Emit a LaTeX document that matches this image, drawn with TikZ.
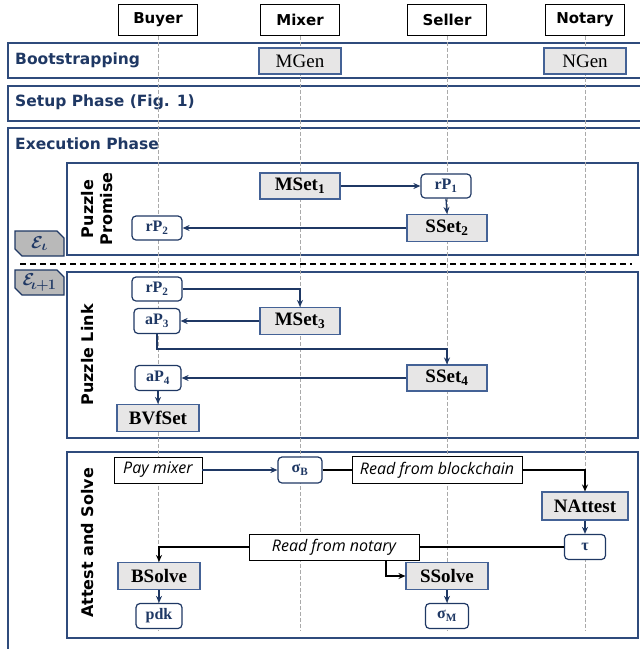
\documentclass[tikz,border=0pt]{standalone}
\usepackage{fontspec}
\setmainfont{Liberation Serif}
\newfontfamily\hdrfont{DejaVu Sans}
\newfontfamily\itfont{Open Sans}
\usetikzlibrary{arrows.meta}
\definecolor{navy}{RGB}{31,56,100}
\definecolor{phaseblue}{RGB}{47,75,124}
\definecolor{gboxblue}{RGB}{68,98,150}
\definecolor{gfill}{RGB}{231,230,230}
\definecolor{efill}{RGB}{185,185,185}
\definecolor{lifegray}{RGB}{170,170,170}
\begin{document}
\begin{tikzpicture}[x=1pt,y=-1pt,
  phase/.style={draw=phaseblue, line width=1.5pt},
  ptitle/.style={anchor=base west, inner sep=0pt, text=navy, font=\hdrfont\bfseries\fontsize{15.5}{18}\selectfont},
  hdr/.style={draw=black, line width=0.8pt, fill=white, minimum width=79pt, minimum height=31pt, inner sep=0pt, font=\hdrfont\bfseries\fontsize{15}{17}\selectfont},
  gbox/.style={draw=gboxblue, fill=gfill, line width=1.1pt, minimum height=26pt, inner sep=0pt, font=\bfseries\fontsize{19}{21}\selectfont},
  rbox/.style={draw=navy, fill=white, line width=1.2pt, rounded corners=4pt, minimum height=24pt, inner sep=0pt, text=navy, font=\bfseries\fontsize{16}{18}\selectfont},
  ibox/.style={draw=black, fill=white, line width=0.9pt, minimum height=26pt, inner sep=0pt, font=\itfont\itshape\fontsize{16}{18}\selectfont},
  vlab/.style={rotate=90, align=center, inner sep=0pt, font=\hdrfont\bfseries\fontsize{16}{19}\selectfont},
  life/.style={draw=lifegray, line width=0.7pt, dash pattern=on 4pt off 2pt},
  arr/.style={draw=navy, line width=1.3pt, -{Stealth[length=7pt,width=6pt]}},
  barr/.style={draw=black, line width=1.3pt, -{Stealth[length=7pt,width=6pt]}},
  bline/.style={draw=black, line width=1.3pt},
  ebox/.style={draw=navy, fill=efill, line width=1.1pt},
  elab/.style={text=navy, inner sep=0pt, font=\boldmath\fontsize{19}{19}\selectfont}]
\useasboundingbox (0,0) rectangle (640,649);
\fill[white] (0,0) rectangle (640,649);

% phase frames
\draw[phase] (8,43) rectangle (650,78);
\draw[phase] (8,86) rectangle (650,121);
\draw[phase] (8,128) rectangle (650,665);
\draw[phase] (67,163) rectangle (638,255);
\draw[phase] (67,272) rectangle (638,438);
\draw[phase] (67,452) rectangle (638,638);

\node[ptitle] (tboot) at (15,64) {Bootstrapping};
\node[ptitle] (tsetup) at (15,106) {Setup Phase (Fig. 1)};
\node[ptitle] (texec) at (15,149) {Execution Phase};

% headers and lifelines
\node[hdr] (buyer) at (158,20) {Buyer};
\node[hdr] (mixer) at (300,20) {Mixer};
\node[hdr] (seller) at (447,20) {Seller};
\node[hdr] (notary) at (585,20) {Notary};
\coordinate (lifeend) at (0,631);
\foreach \p in {buyer,mixer,seller,notary}
  \draw[life] (\p.south) -- (\p.south |- lifeend);

% separator and epoch tags
\draw[black, line width=1.6pt, dash pattern=on 6pt off 4pt] (20,264) -- (632,264);
\draw[ebox] (15,231) -- (57,231) -- (64,238) -- (64,256) -- (22,256) -- (15,249) -- cycle;
\node[elab] (ei) at (39.5,243.5) {$\mathcal{E}_{\iota}$};
\draw[ebox] (15,270) -- (57,270) -- (64,277) -- (64,295) -- (22,295) -- (15,288) -- cycle;
\node[elab] (ei1) at (39.5,282.5) {$\mathcal{E}_{\mkern-2mu\iota\mkern-1mu+\mkern-1mu1}$};

% bootstrapping
\node[gbox, minimum width=82pt, font=\fontsize{19}{21}\selectfont] (mgen) at (300,61) {MGen};
\node[gbox, minimum width=82pt, font=\fontsize{19}{21}\selectfont] (ngen) at (585,61) {NGen};

% puzzle promise
\node[vlab] (lpp) at (97,209) {Puzzle\\Promise};
\node[gbox, minimum width=80pt] (mset1) at (300,186) {MSet\textsubscript{1}};
\node[rbox, minimum width=50pt] (rp1) at (446,186) {rP\textsubscript{1}};
\node[gbox, minimum width=80pt, minimum height=27pt] (sset2) at (447,228) {SSet\textsubscript{2}};
\node[rbox, minimum width=50pt] (rp2a) at (157,228) {rP\textsubscript{2}};
\draw[arr] (mset1.east) -- (rp1.west);
\draw[arr] (rp1.south) -- (sset2.north);
\draw[arr] (sset2.west) -- (rp2a.east);

% puzzle link
\node[vlab] (lpl) at (88,355) {Puzzle Link};
\node[rbox, minimum width=50pt] (rp2b) at (157,289) {rP\textsubscript{2}};
\node[gbox, minimum width=80pt, minimum height=27pt] (mset3) at (300,321) {MSet\textsubscript{3}};
\node[rbox, minimum width=46pt, minimum height=25pt] (ap3) at (157,321) {aP\textsubscript{3}};
\node[gbox, minimum width=80pt] (sset4) at (447,378) {SSet\textsubscript{4}};
\node[rbox, minimum width=46pt, minimum height=25pt] (ap4) at (158,378) {aP\textsubscript{4}};
\node[gbox, minimum width=82pt, minimum height=27pt] (bvf) at (158,418) {BVfSet};
\coordinate (linky) at (0,349);
\draw[arr] (rp2b.east) -| (mset3.north);
\draw[arr] (mset3.west) -- (ap3.east);
\draw[arr] (ap3.south) -- (ap3.south |- linky) -| (sset4.north);
\draw[arr] (sset4.west) -- (ap4.east);
\draw[arr] (ap4.south) -- (bvf.north);

% attest and solve
\node[vlab] (las) at (88,543) {Attest and Solve};
\node[ibox, minimum width=88pt] (pay) at (158,470) {Pay mixer};
\node[rbox, minimum width=44pt, minimum height=26pt] (sigb) at (300,470) {σ\textsubscript{B}};
\node[ibox, minimum width=170pt, minimum height=27pt] (rfb) at (437,470) {Read from blockchain};
\node[gbox, minimum width=86pt, minimum height=28pt] (nattest) at (585,506) {NAttest};
\node[rbox, minimum width=41pt, minimum height=25pt] (tau) at (585,547) {τ};
\node[ibox, minimum width=170pt] (rfn) at (334,547) {Read from notary};
\node[gbox, minimum width=82pt, minimum height=27pt] (bsolve) at (159,576) {BSolve};
\node[gbox, minimum width=82pt, minimum height=27pt] (ssolve) at (447,576) {SSolve};
\node[rbox, minimum width=46pt, minimum height=25pt] (pdk) at (159,616) {pdk};
\node[rbox, minimum width=43pt, minimum height=25pt] (sigm) at (447,616) {σ\textsubscript{M}};
\draw[arr] (pay.east) -- (sigb.west);
\draw[bline] (sigb.east) -- (rfb.west);
\draw[barr] (rfb.east) -| (nattest.north);
\draw[arr] (nattest.south) -- (tau.north);
\draw[bline] (tau.west) -- (rfn.east);
\draw[barr] (rfn.west) -| (bsolve.north);
\draw[barr] ([xshift=52pt]rfn.south) |- (ssolve.west);
\draw[arr] (bsolve.south) -- (pdk.north);
\draw[arr] (ssolve.south) -- (sigm.north);
\end{tikzpicture}
\end{document}
